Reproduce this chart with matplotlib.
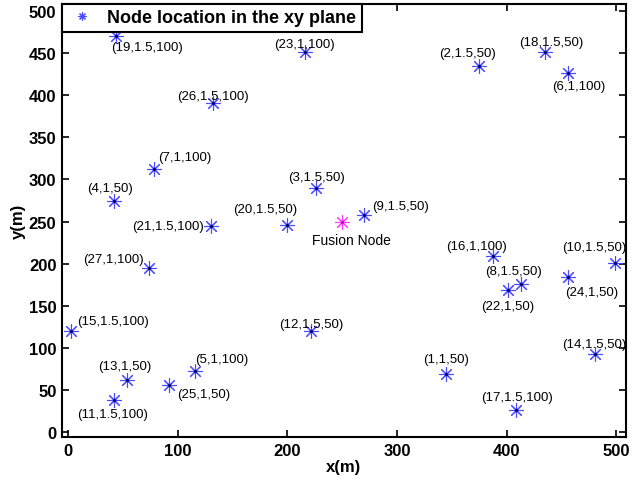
import matplotlib
matplotlib.use("Agg")
import matplotlib.pyplot as plt

plt.rcParams['font.family'] = ['Liberation Sans', 'DejaVu Sans']

# sensor nodes: id, position (m), and the two node parameters shown in the labels
node_id = [1, 2, 3, 4, 5, 6, 7, 8, 9, 10, 11, 12, 13, 14, 15, 16, 17, 18, 19,
           20, 21, 22, 23, 24, 25, 26, 27]
node_x = [345, 375, 226, 42, 116, 456, 78, 413, 270, 499, 42, 222, 54, 481, 3,
          388, 409, 435, 44, 200, 130, 401, 216, 456, 92, 132, 74]
node_y = [69, 435, 290, 275, 72, 426, 312, 176, 258, 201, 38, 120, 62, 93, 120,
          209, 26, 451, 470, 246, 245, 169, 451, 184, 56, 391, 195]
node_a = [1, 1.5, 1.5, 1, 1, 1, 1, 1.5, 1.5, 1.5, 1.5, 1.5, 1, 1.5, 1.5,
          1, 1.5, 1.5, 1.5, 1.5, 1.5, 1, 1, 1, 1, 1.5, 1]
node_b = [50, 50, 50, 50, 100, 100, 100, 50, 50, 50, 100, 50, 50, 50, 100,
          100, 100, 50, 100, 50, 100, 50, 100, 50, 50, 100, 100]

fusion_x = [250]
fusion_y = [250]

# label placement relative to each node, in pixels (right, down)
label_off = [(0, -15), (-12, -13), (1, -11), (-4, -13), (27, -12), (11, 13),
             (31, -12), (-7, -13), (36, -9), (-21, -16), (-2, 14), (0, -7),
             (-2, -14), (-1, -10), (42, -10), (-17, -10), (1, -13), (6, -10),
             (31, 11), (-22, -16), (-43, 0), (0, 16), (0, -8), (24, 15),
             (35, 9), (0, -7), (-36, -9)]

asterisk = (8, 2, 0)

fig = plt.figure(figsize=(6.33, 4.85), dpi=100)
ax = fig.add_axes([62 / 633, 47 / 485, 564 / 633, 433 / 485])

ax.plot(node_x, node_y, linestyle='none', marker=asterisk, markersize=10.5,
        markeredgewidth=0.8, color='#4a4aff', label='Node location in the xy plane')
ax.plot(node_x, node_y, linestyle='none', marker='.', markersize=2.5,
        color='#000070')
ax.plot(fusion_x, fusion_y, linestyle='none', marker=asterisk, markersize=10.5,
        markeredgewidth=0.8, color='#ff40ff')
ax.plot(fusion_x, fusion_y, linestyle='none', marker='.', markersize=2.5,
        color='#c000c0')

for i in range(len(node_id)):
    txt = "(%d,%g,%d)" % (node_id[i], node_a[i], node_b[i])
    dx, dy = label_off[i]
    ax.annotate(txt, (node_x[i], node_y[i]), xytext=(dx, -dy),
                textcoords='offset pixels', ha='center', va='center',
                fontsize=9.5, zorder=5)

ax.annotate("Fusion Node", (fusion_x[0], fusion_y[0]), xytext=(9, -18),
            textcoords='offset pixels', ha='center', va='center', fontsize=10)

ax.set_xlim(-5.5, 509)
ax.set_ylim(-6, 508.5)
ax.set_xticks(range(0, 501, 100))
ax.set_yticks(range(0, 501, 50))
ax.tick_params(direction='in', length=5, width=1.2, top=True, right=True,
               labelsize=12, pad=4)
for lab in ax.get_xticklabels() + ax.get_yticklabels():
    lab.set_fontweight('bold')
for s in ax.spines.values():
    s.set_linewidth(1.5)

ax.set_xlabel('x(m)', fontsize=12, fontweight='bold', labelpad=1)
ax.set_ylabel('y(m)', fontsize=12, fontweight='bold', labelpad=2)

leg = ax.legend(loc='upper left', borderaxespad=0, fancybox=False,
                edgecolor='black', framealpha=1, markerscale=0.55,
                prop={'size': 13, 'weight': 'bold'}, handlelength=1.6,
                handletextpad=0.6, borderpad=0.3)
leg.get_frame().set_linewidth(1.5)
leg.set_zorder(10)

fig.savefig('out.png', dpi=100)
